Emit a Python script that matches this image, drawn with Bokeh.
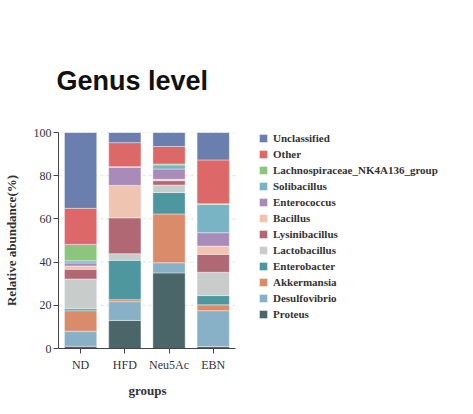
from bokeh.plotting import figure
from bokeh.models import Range1d, Legend, LegendItem, ColumnDataSource, Title
from bokeh.embed import file_html
from bokeh.resources import INLINE

groups = ["ND", "HFD", "Neu5Ac", "EBN"]

genera = ["Proteus", "Desulfovibrio", "Akkermansia", "Enterobacter",
          "Lactobacillus", "Lysinibacillus", "Bacillus", "Enterococcus",
          "Solibacillus", "Lachnospiraceae_NK4A136_group", "Other", "Unclassified"]

Proteus = [1.0, 13.0, 35.0, 0.9]
Desulfovibrio = [7.0, 8.7, 4.7, 16.6]
Akkermansia = [9.5, 0.9, 22.6, 2.7]
Enterobacter = [0.9, 18.2, 9.9, 4.3]
Lactobacillus = [13.8, 3.1, 3.5, 10.8]
Lysinibacillus = [4.5, 16.6, 2.0, 8.3]
Bacillus = [1.5, 15.0, 0.6, 3.8]
Enterococcus = [1.4, 8.4, 4.8, 6.2]
Solibacillus = [1.0, 0.3, 1.9, 13.1]
Lachnospiraceae = [7.6, 0.0, 0.4, 0.3]
Other = [16.7, 11.1, 8.1, 20.3]
Unclassified = [35.1, 4.7, 6.5, 12.7]

colors = ["#4a6668", "#88b0c6", "#d98b6a", "#4e979f", "#c8cccb", "#b06874",
          "#efc5b2", "#a98bba", "#79b4c4", "#8cc67e", "#dd6868", "#6a7fae"]

yticks = [0, 20, 40, 60, 80, 100]

series = [Proteus, Desulfovibrio, Akkermansia, Enterobacter, Lactobacillus,
          Lysinibacillus, Bacillus, Enterococcus, Solibacillus, Lachnospiraceae,
          Other, Unclassified]

n = len(groups)
xpos = [i + 0.5 for i in range(n)]
data = {"x": xpos}
for name, vals in zip(genera, series):
    data[name] = vals
source = ColumnDataSource(data)

W, H = 465, 403
left, right, top, bottom = 53, 0, 132, 55
frame_w = W - left - right
axis_px = 179  # pixel length of the category axis
p = figure(x_range=Range1d(0, n * frame_w / axis_px), y_range=Range1d(0, 100),
           width=W, height=H, output_backend="svg", toolbar_location=None,
           min_border_left=left, min_border_right=right, min_border_top=top,
           min_border_bottom=bottom, title="Genus level")

p.title.text_font = "Liberation Sans"
p.title.text_font_size = "27px"
p.title.text_font_style = "bold"
p.title.text_color = "#111111"
p.title.align = "left"
p.title.offset = -2
p.title.standoff = 74

# faint dashed gridlines, only across the category area
p.segment(x0=[0] * len(yticks), x1=[n] * len(yticks), y0=yticks, y1=yticks,
          line_color="#e0e0e0", line_dash="3 3", line_width=1)

renderers = p.vbar_stack(genera, x="x", width=0.73, source=source,
                         color=colors, line_color="white", line_width=0.4)

items = [LegendItem(label=g, renderers=[r]) for g, r in zip(genera, renderers)]
items = items[::-1]
legend = Legend(items=items, location=(200, 28), padding=0, margin=0,
                spacing=4, glyph_width=10, glyph_height=10, label_height=12,
                label_standoff=5, border_line_color=None,
                background_fill_alpha=0,
                label_text_font="Liberation Serif", label_text_font_size="11px",
                label_text_font_style="bold", label_text_color="#333333")
p.add_layout(legend, "center")

p.outline_line_color = None
p.xgrid.grid_line_color = None
p.ygrid.grid_line_color = None

p.xaxis.ticker = xpos
p.xaxis.major_label_overrides = {x: g for x, g in zip(xpos, groups)}
p.xaxis.bounds = (0, n)
p.yaxis.ticker = yticks
p.yaxis.axis_label = "Relative abundance(%)"
for ax in (p.xaxis, p.yaxis):
    ax.axis_line_color = "#444444"
    ax.major_tick_line_color = "#444444"
    ax.minor_tick_line_color = None
    ax.major_tick_in = 0
    ax.major_tick_out = 5
    ax.major_label_text_font = "Liberation Serif"
    ax.major_label_text_font_size = "12px"
    ax.major_label_text_color = "#333333"
    ax.axis_label_text_font = "Liberation Serif"
    ax.axis_label_text_font_size = "13px"
    ax.axis_label_text_font_style = "bold"
    ax.axis_label_text_color = "#333333"
p.yaxis.major_label_standoff = 2
p.yaxis.axis_label_standoff = 12
p.xaxis.major_label_standoff = 4

xtitle = Title(text="groups", align="left", offset=70, standoff=12,
               text_font="Liberation Serif", text_font_size="13px",
               text_font_style="bold", text_color="#333333")
p.add_layout(xtitle, "below")

open("out.html", "w").write(file_html(p, INLINE))
